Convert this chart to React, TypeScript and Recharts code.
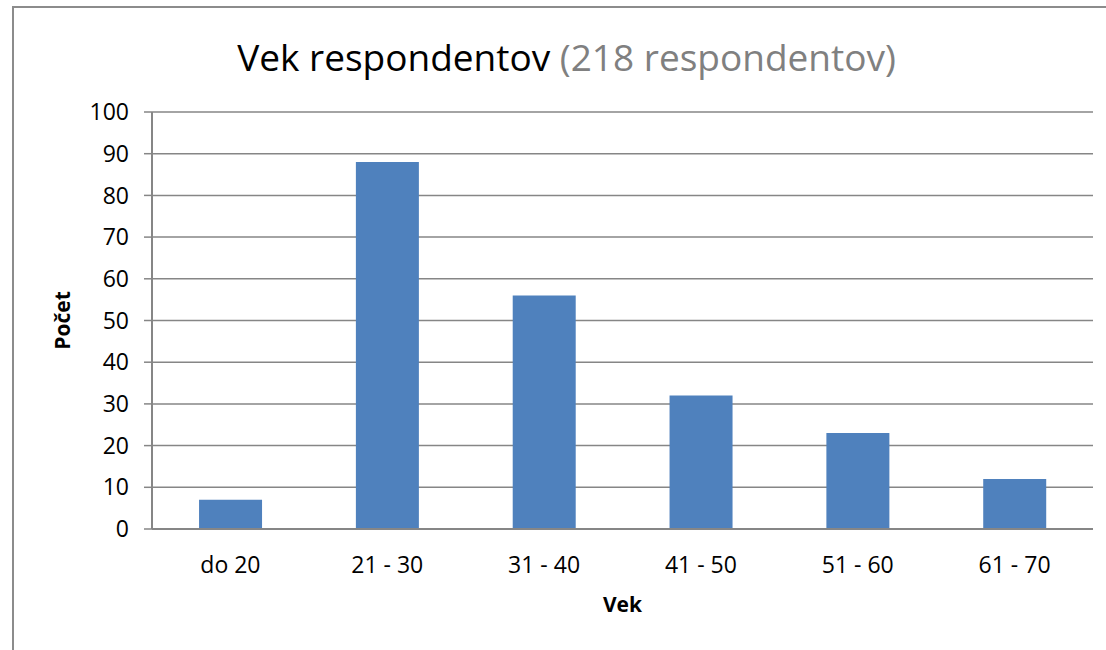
import { BarChart, Bar, XAxis, YAxis, CartesianGrid, Label } from "recharts";

const categories = ["do 20", "21 - 30", "31 - 40", "41 - 50", "51 - 60", "61 - 70"];
const counts = [7, 88, 56, 32, 23, 12];
const yTicks = [0, 10, 20, 30, 40, 50, 60, 70, 80, 90, 100];

const FONT = "'Open Sans', 'Noto Sans', sans-serif";
const GRID = "#868686";

const data = categories.map((c, i) => ({ vek: c, pocet: counts[i] }));

export default function App() {
  return (
    <div
      style={{
        position: "absolute",
        left: 0,
        top: 0,
        width: 1106,
        height: 650,
        background: "#fff",
        overflow: "hidden",
        fontFamily: FONT,
      }}
    >
      {/* frame around the chart */}
      <div
        style={{
          position: "absolute",
          left: 12,
          top: 6,
          width: 1200,
          height: 700,
          border: "2px solid #8c8c8c",
          boxSizing: "border-box",
        }}
      />
      <div
        style={{
          position: "absolute",
          left: 0,
          top: 35,
          width: 1133,
          textAlign: "center",
          fontSize: 37,
          lineHeight: "44px",
          whiteSpace: "nowrap",
        }}
      >
        <span style={{ color: "#000" }}>Vek respondentov </span>
        <span style={{ color: "#808080" }}>(218 respondentov)</span>
      </div>
      <BarChart
        width={1106}
        height={650}
        data={data}
        margin={{ top: 112, right: 13, bottom: 31, left: 92 }}
        barCategoryGap="30%"
        style={{ position: "absolute", left: 0, top: 0 }}
      >
        <CartesianGrid vertical={false} stroke={GRID} strokeWidth={1.5} />
        <XAxis
          dataKey="vek"
          tickLine={false}
          axisLine={{ stroke: GRID, strokeWidth: 2 }}
          tick={{ fontSize: 23, fill: "#000", fontFamily: FONT }}
          tickMargin={22}
          height={90}
        >
          <Label
            value="Vek"
            position="insideBottom"
            offset={7}
            style={{ fontSize: 21, fontWeight: "bold", fill: "#000", fontFamily: FONT }}
          />
        </XAxis>
        <YAxis
          domain={[0, 100]}
          ticks={yTicks}
          interval={0}
          width={60}
          tickSize={8}
          tickMargin={15}
          tickLine={{ stroke: GRID, strokeWidth: 1.5 }}
          axisLine={{ stroke: GRID, strokeWidth: 2 }}
          tick={{ fontSize: 23, fill: "#000", fontFamily: FONT }}
        >
          <Label
            value="Počet"
            angle={-90}
            position="insideLeft"
            offset={-29}
            style={{ fontSize: 21, fontWeight: "bold", fill: "#000", fontFamily: FONT, textAnchor: "middle" }}
          />
        </YAxis>
        <Bar dataKey="pocet" fill="#4F81BD" isAnimationActive={false} />
      </BarChart>
    </div>
  );
}
